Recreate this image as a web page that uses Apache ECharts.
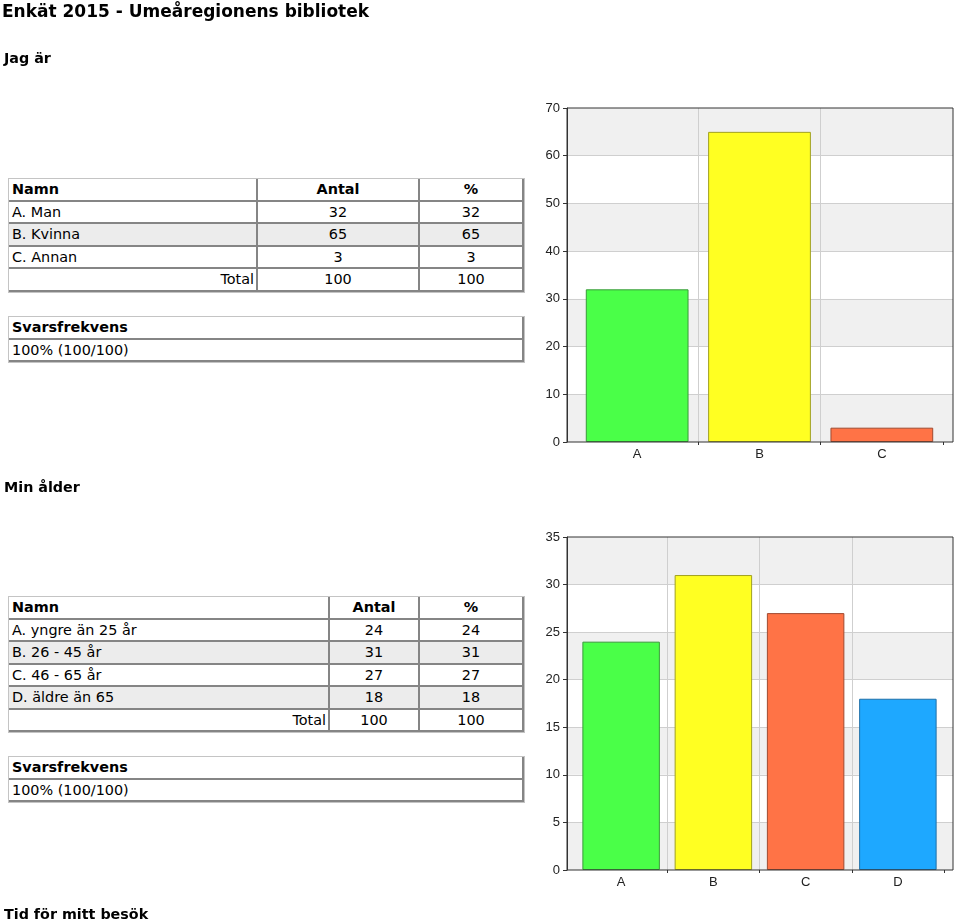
<!DOCTYPE html>
<html><head><meta charset="utf-8">
<script src="https://cdn.jsdelivr.net/npm/echarts@6/dist/echarts.min.js"></script>
<style>
html,body{margin:0;padding:0;background:#fff;width:960px;height:923px;overflow:hidden;font-family:'DejaVu Sans',Verdana,sans-serif;color:#000}
#chart{position:absolute;left:0;top:0;width:960px;height:923px;z-index:0}
.h{position:absolute;font-weight:bold;white-space:nowrap;z-index:1;line-height:20px}
.tbl{position:absolute;display:grid;border:1px solid #c4c4c4;z-index:1;font-size:14.4px;background:#fff;grid-auto-rows:22.5px}
.tbl div{box-sizing:border-box;border-right:2px solid #858585;border-bottom:2px solid #858585;padding:0 3px;display:flex;align-items:center;white-space:nowrap;overflow:hidden}
.tbl .c{justify-content:center}
.tbl .r{justify-content:flex-end;padding-right:2px}
.tbl .b{font-weight:bold}
.tbl .g{background:#ececec}
</style></head><body>
<div id="chart"></div>
<div id="page"></div>
<script>
// ---- data ----
const pageTitle = 'Enkät 2015 - Umeåregionens bibliotek';
const tableHeaders = ['Namn', 'Antal', '%'];
const totalLabel = 'Total';
const responseHeader = 'Svarsfrekvens';

const q1Title = 'Jag är';
const q1Names = ['A. Man', 'B. Kvinna', 'C. Annan'];
const q1Axis = ['A', 'B', 'C'];
const q1Counts = [32, 65, 3];
const q1Percents = [32, 65, 3];
const q1Totals = [100, 100];
const q1Response = '100% (100/100)';
const q1YMax = 70, q1YStep = 10;

const q2Title = 'Min ålder';
const q2Names = ['A. yngre än 25 år', 'B. 26 - 45 år', 'C. 46 - 65 år', 'D. äldre än 65'];
const q2Axis = ['A', 'B', 'C', 'D'];
const q2Counts = [24, 31, 27, 18];
const q2Percents = [24, 31, 27, 18];
const q2Totals = [100, 100];
const q2Response = '100% (100/100)';
const q2YMax = 35, q2YStep = 5;

const q3Title = 'Tid för mitt besök';

// ---- styles ----
const barFill = ['#4aff48', '#ffff22', '#ff7346', '#1ea8ff'];
const barStroke = ['#3a9a3a', '#a0a020', '#a04a30', '#2070a8'];

// ---- HTML text & tables ----
const page = document.getElementById('page');
function heading(text, left, top, size) {
  const d = document.createElement('div');
  d.className = 'h'; d.textContent = text;
  d.style.left = left + 'px'; d.style.top = top + 'px'; d.style.fontSize = size + 'px';
  page.appendChild(d);
}
function cell(parent, text, cls) {
  const d = document.createElement('div');
  d.className = cls || ''; d.textContent = text; parent.appendChild(d);
}
function dataTable(left, top, cols, names, counts, percents, totals) {
  const t = document.createElement('div');
  t.className = 'tbl';
  t.style.left = left + 'px'; t.style.top = top + 'px';
  t.style.gridTemplateColumns = cols.map(c => c + 'px').join(' ');
  cell(t, tableHeaders[0], 'b');
  cell(t, tableHeaders[1], 'b c');
  cell(t, tableHeaders[2], 'b c');
  names.forEach((n, i) => {
    const g = i % 2 === 1 ? ' g' : '';
    cell(t, n, g);
    cell(t, String(counts[i]), 'c' + g);
    cell(t, String(percents[i]), 'c' + g);
  });
  cell(t, totalLabel, 'r');
  cell(t, String(totals[0]), 'c');
  cell(t, String(totals[1]), 'c');
  page.appendChild(t);
}
function responseTable(left, top, width, text) {
  const t = document.createElement('div');
  t.className = 'tbl';
  t.style.left = left + 'px'; t.style.top = top + 'px';
  t.style.gridTemplateColumns = width + 'px';
  cell(t, responseHeader, 'b');
  cell(t, text, '');
  page.appendChild(t);
}
heading(pageTitle, 2, 1, 17);
heading(q1Title, 4, 48, 14.3);
dataTable(8, 178, [249, 162, 104], q1Names, q1Counts, q1Percents, q1Totals);
responseTable(8, 316, 515, q1Response);
heading(q2Title, 4, 477, 14.3);
dataTable(8, 596, [321, 90, 104], q2Names, q2Counts, q2Percents, q2Totals);
responseTable(8, 756, 515, q2Response);
heading(q3Title, 4, 904, 14.3);

// ---- charts ----
const chart = echarts.init(document.getElementById('chart'), null, {renderer: 'canvas'});
const axisFont = {fontFamily: 'Liberation Sans, Arial, sans-serif', fontSize: 13, color: '#222'};
function bgAxes(gridIndex, max, step) {
  return {
    x: {gridIndex, type: 'value', show: false, min: 0, max: 1},
    y: {
      gridIndex, type: 'value', min: 0, max: max, interval: step,
      axisLine: {show: true, lineStyle: {color: '#333', width: 1}},
      axisTick: {show: true, length: 4, lineStyle: {color: '#333'}},
      axisLabel: Object.assign({margin: 7}, axisFont),
      splitLine: {show: true, showMinLine: false, showMaxLine: false, lineStyle: {color: '#cfcfcf', width: 1}},
      splitArea: {show: true, areaStyle: {color: ['#f0f0f0', '#ffffff']}}
    }
  };
}
function fgAxes(gridIndex, cats, max) {
  return {
    x: {
      gridIndex, type: 'category', data: cats,
      axisLine: {show: false},
      axisTick: {show: true, length: 3, interval: (i) => i !== 0, lineStyle: {color: '#333'}},
      axisLabel: Object.assign({margin: 6, interval: 0}, axisFont),
      splitLine: {show: true, interval: 0, showMinLine: false, showMaxLine: false, lineStyle: {color: '#cfcfcf', width: 1}}
    },
    y: {gridIndex, type: 'value', show: false, min: 0, max: max}
  };
}
const a0 = bgAxes(0, q1YMax, q1YStep);
const a1 = fgAxes(1, q1Axis, q1YMax);
const a2 = bgAxes(2, q2YMax, q2YStep);
const a3 = fgAxes(3, q2Axis, q2YMax);
function barData(vals) {
  return vals.map((v, i) => ({value: v, itemStyle: {color: barFill[i], borderColor: barStroke[i], borderWidth: 1}}));
}
chart.setOption({
  animation: false,
  grid: [
    {left: 567, top: 108, width: 386, height: 334, show: true, z: 5, borderColor: '#333', borderWidth: 1, backgroundColor: 'transparent'},
    {left: 576, top: 108, width: 367, height: 334},
    {left: 567, top: 537, width: 386, height: 333, show: true, z: 5, borderColor: '#333', borderWidth: 1, backgroundColor: 'transparent'},
    {left: 575, top: 537, width: 369, height: 333}
  ],
  xAxis: [a0.x, a1.x, a2.x, a3.x],
  yAxis: [a0.y, a1.y, a2.y, a3.y],
  series: [
    {type: 'bar', xAxisIndex: 1, yAxisIndex: 1, data: barData(q1Counts), barCategoryGap: '16%', z: 3},
    {type: 'bar', xAxisIndex: 3, yAxisIndex: 3, data: barData(q2Counts), barCategoryGap: '16%', z: 3}
  ]
});
</script>
</body></html>
